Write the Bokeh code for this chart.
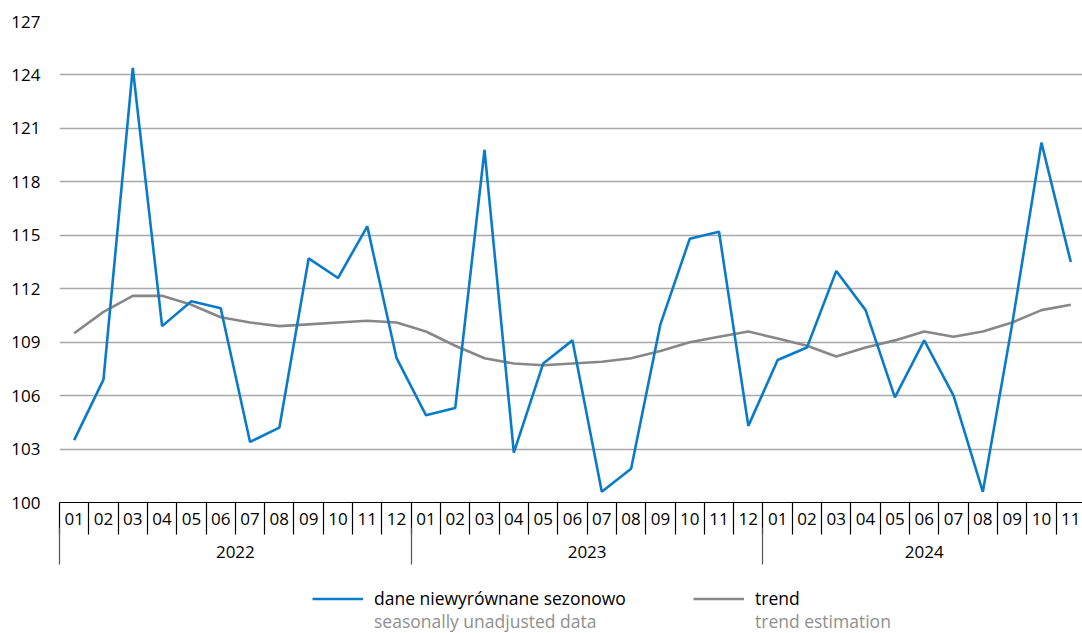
from bokeh.plotting import figure
from bokeh.layouts import column
from bokeh.models import (Range1d, FixedTicker, LinearAxis, Legend, LegendItem,
                          ColumnDataSource)
from bokeh.embed import file_html
from bokeh.resources import INLINE

# ---- data -------------------------------------------------------------
MONTHS = ["01", "02", "03", "04", "05", "06", "07", "08", "09", "10", "11", "12",
          "01", "02", "03", "04", "05", "06", "07", "08", "09", "10", "11", "12",
          "01", "02", "03", "04", "05", "06", "07", "08", "09", "10", "11"]
YEARS = ["2022", "2023", "2024"]
YEAR_MONTHS = [12, 12, 11]

UNADJUSTED = [103.5, 106.9, 124.4, 109.9, 111.3, 110.9, 103.4, 104.2, 113.7, 112.6, 115.5, 108.1,
              104.9, 105.3, 119.8, 102.8, 107.8, 109.1, 100.6, 101.9, 110.0, 114.8, 115.2, 104.3,
              108.0, 108.7, 113.0, 110.8, 105.9, 109.1, 106.0, 100.6, 110.0, 120.2, 113.5]
TREND = [109.5, 110.7, 111.6, 111.6, 111.1, 110.4, 110.1, 109.9, 110.0, 110.1, 110.2, 110.1,
         109.6, 108.8, 108.1, 107.8, 107.7, 107.8, 107.9, 108.1, 108.5, 109.0, 109.3, 109.6,
         109.2, 108.8, 108.2, 108.7, 109.1, 109.6, 109.3, 109.6, 110.1, 110.8, 111.1]
Y_TICKS = [100, 103, 106, 109, 112, 115, 118, 121, 124, 127]

SERIES_PL = ["dane niewyrównane sezonowo", "trend"]
SERIES_EN = ["seasonally unadjusted data", "trend estimation"]

# ---- styles -----------------------------------------------------------
FONT = "Open Sans"
FS = "17px"
BLUE = "#0a7bc9"
GREY = "#878787"
W = 1082
H1 = 568
H2 = 65

idx = list(range(len(MONTHS)))
src = ColumnDataSource(dict(x=idx, unadj=UNADJUSTED, trend=TREND))

p = figure(width=W, height=H1, output_backend="svg", toolbar_location=None,
           x_range=Range1d(-0.5, 34.4), y_range=Range1d(100, 127),
           x_axis_type=None,
           min_border_left=59, min_border_right=0, min_border_top=21,
           min_border_bottom=H1 - 21 - 481)
p.outline_line_color = None

# y axis
p.yaxis.ticker = FixedTicker(ticks=Y_TICKS)
p.yaxis.axis_line_color = None
p.yaxis.major_tick_line_color = None
p.yaxis.minor_tick_line_color = None
p.yaxis.major_tick_out = 0
p.yaxis.major_tick_in = 0
p.yaxis.minor_tick_out = 0
p.yaxis.minor_tick_in = 0
p.yaxis.major_label_standoff = 19
p.yaxis.major_label_text_font = FONT
p.yaxis.major_label_text_font_size = FS
p.yaxis.major_label_text_color = "black"
p.ygrid.ticker = FixedTicker(ticks=Y_TICKS)
p.ygrid.grid_line_color = "#a8a8a8"
p.ygrid.grid_line_width = 1.5

# month axis (separators drawn as outward minor ticks)
bounds = [-0.5]
for n in YEAR_MONTHS:
    bounds.append(bounds[-1] + n)
month_bounds = [i - 0.5 for i in range(len(MONTHS) + 1)]
axA = LinearAxis(ticker=FixedTicker(ticks=idx, minor_ticks=month_bounds),
                 major_label_overrides={i: m for i, m in enumerate(MONTHS)},
                 major_tick_out=0, major_tick_in=0,
                 minor_tick_out=0, minor_tick_in=-32,
                 minor_tick_line_color="black", minor_tick_line_width=1.2,
                 axis_line_color="black", axis_line_width=1.2,
                 major_label_standoff=10,
                 major_label_text_font=FONT, major_label_text_font_size=FS,
                 major_label_text_color="black")
p.add_layout(axA, "below")

# year axis
centers = [(bounds[k] + bounds[k + 1]) / 2 for k in range(len(YEARS))]
axB = LinearAxis(ticker=FixedTicker(ticks=centers, minor_ticks=bounds),
                 major_label_overrides={c: y for c, y in zip(centers, YEARS)},
                 major_tick_out=0, major_tick_in=0,
                 minor_tick_out=0, minor_tick_in=-37,
                 minor_tick_line_color="#555555", minor_tick_line_width=1.2,
                 axis_line_color=None,
                 major_label_standoff=18,
                 major_label_text_font=FONT, major_label_text_font_size=FS,
                 major_label_text_color="black")
p.add_layout(axB, "below")

# lines
r_trend = p.line("x", "trend", source=src, line_color=GREY, line_width=2.6)
r_unadj = p.line("x", "unadj", source=src, line_color=BLUE, line_width=2.6)

# ---- legend strip (same series, kept outside its visible range) -------
p2 = figure(width=W, height=H2, output_backend="svg", toolbar_location=None,
            x_range=Range1d(0, W), y_range=Range1d(0, H2),
            x_axis_type=None, y_axis_type=None, min_border=0,
            min_border_left=0, min_border_right=0, min_border_top=0,
            min_border_bottom=0)
p2.outline_line_color = None
l_unadj = p2.line("x", "unadj", source=src, line_color=BLUE, line_width=2.6)
l_trend = p2.line("x", "trend", source=src, line_color=GREY, line_width=2.6)
n_unadj = p2.line("x", "unadj", source=src, line_alpha=0)
n_trend = p2.line("x", "trend", source=src, line_alpha=0)

common = dict(orientation="horizontal", glyph_width=51, glyph_height=23,
              label_standoff=11, label_width=309, label_height=23, spacing=10,
              padding=0, margin=0, border_line_alpha=0, background_fill_alpha=0,
              label_text_font=FONT, label_text_font_size="17.5px")
leg1 = Legend(items=[LegendItem(label=SERIES_PL[0], renderers=[l_unadj]),
                     LegendItem(label=SERIES_PL[1], renderers=[l_trend])],
              location=(253, 23), label_text_color="black", **common)
leg2 = Legend(items=[LegendItem(label=SERIES_EN[0], renderers=[n_unadj]),
                     LegendItem(label=SERIES_EN[1], renderers=[n_trend])],
              location=(253, 0), label_text_color="#8f8f8f", **common)
p2.add_layout(leg1, "center")
p2.add_layout(leg2, "center")

layout = column(p, p2, spacing=0)
open("out.html", "w").write(file_html(layout, INLINE))
